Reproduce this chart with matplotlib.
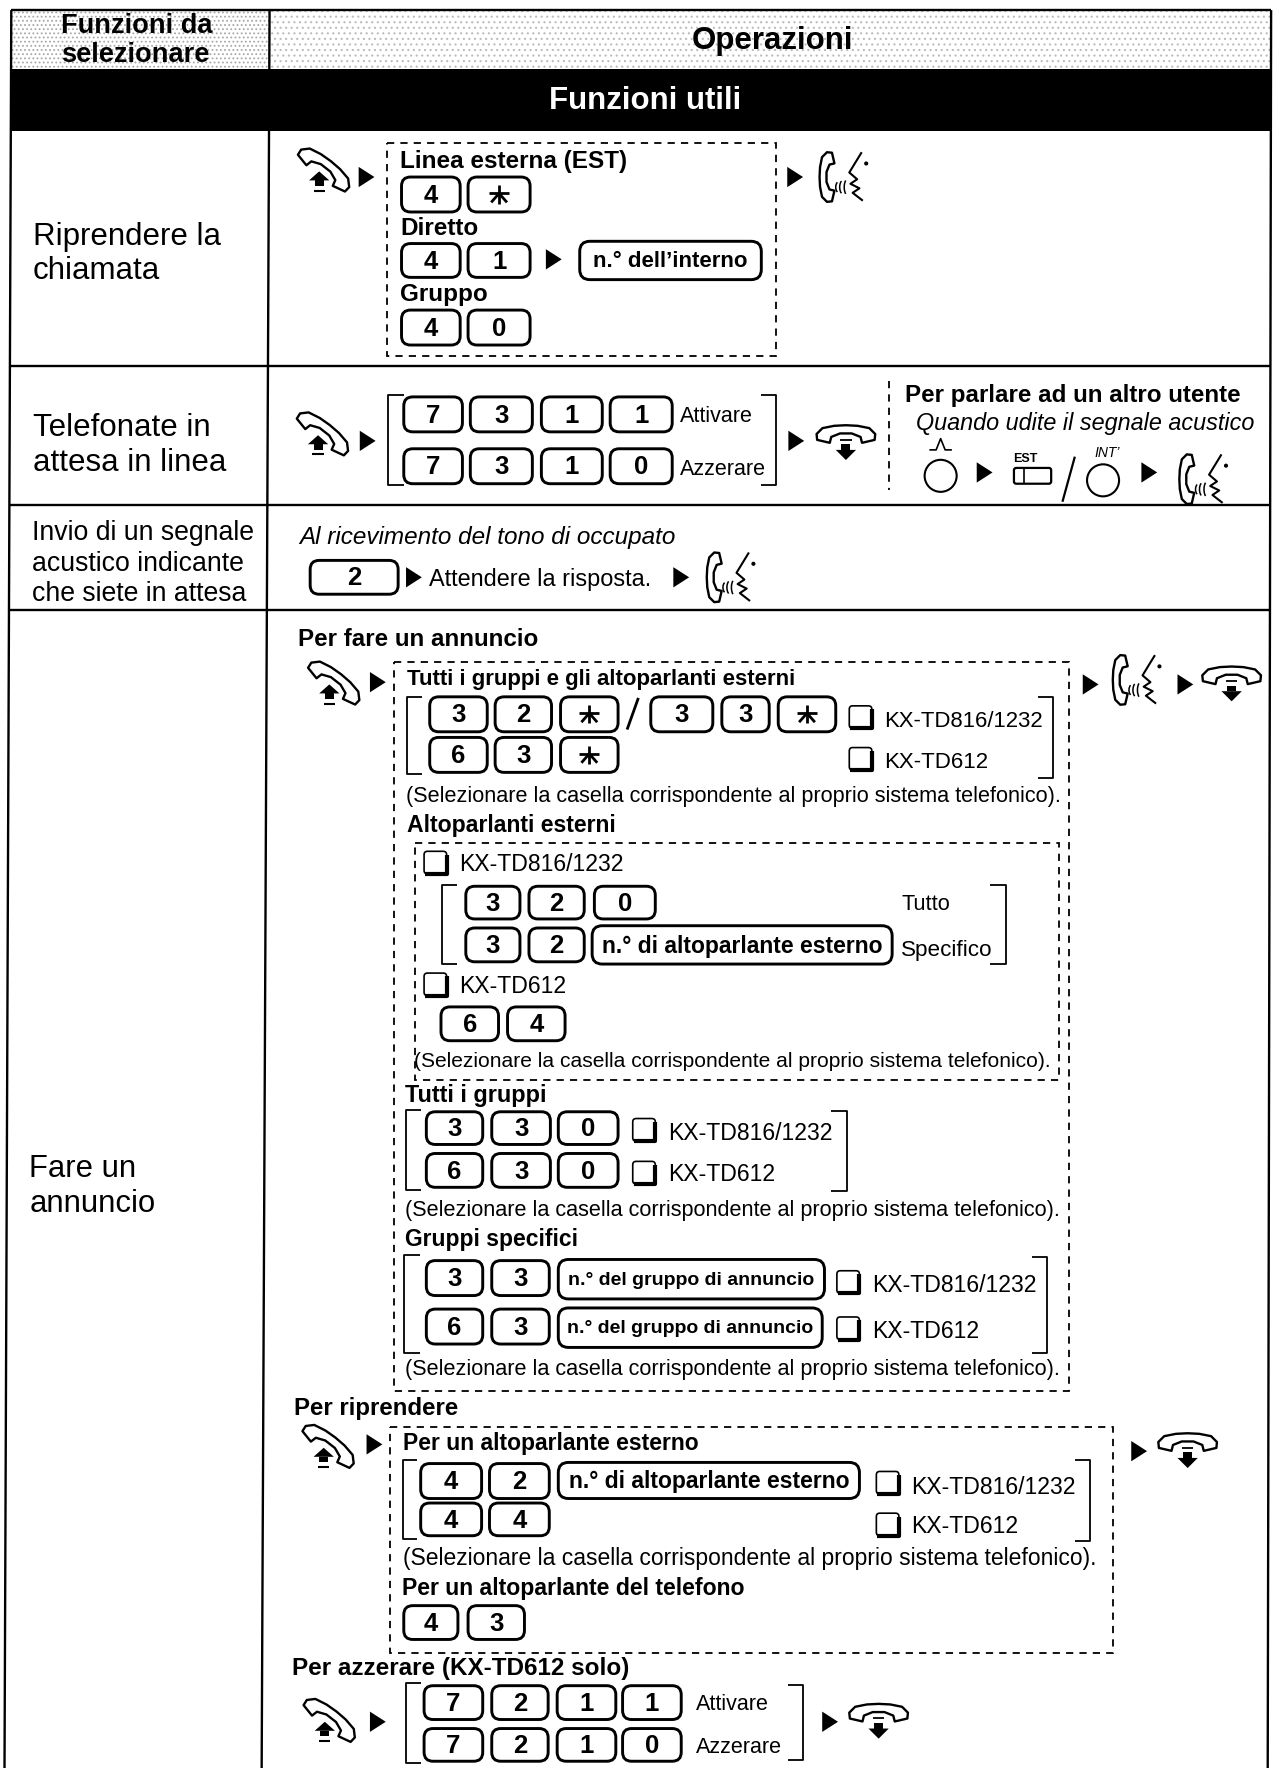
import numpy as np
import matplotlib
matplotlib.use("Agg")
import matplotlib.pyplot as plt
from matplotlib.patches import FancyBboxPatch, Polygon, Rectangle, Circle, Arc

plt.rcParams["font.family"] = ["Liberation Sans", "DejaVu Sans"]
plt.rcParams["hatch.linewidth"] = 0.8

# -----------------------------
# Texts
# -----------------------------
header_left = ["Funzioni da", "selezionare"]
header_right = "Operazioni"
band_title = "Funzioni utili"
row_resume = ["Riprendere la", "chiamata"]
row_wait = ["Telefonate in", "attesa in linea"]
row_signal = ["Invio di un segnale", "acustico indicante", "che siete in attesa"]
row_announce = ["Fare un", "annuncio"]

on_off = ["Attivare", "Azzerare"]
select_note = "(Selezionare la casella corrispondente al proprio sistema telefonico)."
model_big = "KX-TD816/1232"
model_small = "KX-TD612"
box_inner = "n.° dell’interno"
box_speaker = "n.° di altoparlante esterno"
box_group = "n.° del gruppo di annuncio"

# key sequences
keys_est = ["4", "*"]
keys_dir = ["4", "1"]
keys_grp = ["4", "0"]
keys_on = ["7", "3", "1", "1"]
keys_off = ["7", "3", "1", "0"]
keys_all_a = ["3", "2", "*"]
keys_all_b = ["3", "3", "*"]
keys_all_c = ["6", "3", "*"]
keys_spk_a = ["3", "2", "0"]
keys_spk_b = ["3", "2"]
keys_spk_c = ["6", "4"]
keys_grp_a = ["3", "3", "0"]
keys_grp_b = ["6", "3", "0"]
keys_spec_a = ["3", "3"]
keys_spec_b = ["6", "3"]
keys_res_a = ["4", "2"]
keys_res_b = ["4", "4"]
keys_res_c = ["4", "3"]
keys_clr_on = ["7", "2", "1", "1"]
keys_clr_off = ["7", "2", "1", "0"]

# -----------------------------
# Page (coordinates follow the scan)
# -----------------------------
fig = plt.figure(figsize=(12.79, 17.68), dpi=100)
ax = fig.add_axes([0, 0, 1, 1])
ax.set_xlim(0, 1134)
ax.set_ylim(1568, 0)
ax.axis("off")


def txt(x, y, s, size=15.5, weight="normal", style="normal", color="black", ha="left"):
    ax.text(x, y + 4, s, fontsize=size, fontweight=weight, fontstyle=style,
            color=color, ha=ha, va="center", zorder=5)


def bold(x, y, s, size=16):
    txt(x, y, s, size=size, weight="bold")


def note(x, y, size=15.55):
    txt(x, y, select_note, size=size)


def line(xs, ys, lw=1.5, ls="-"):
    ax.plot(xs, ys, color="black", lw=lw, ls=ls, solid_capstyle="butt")


def key(x0, x1, y0, y1, label, size=18.5):
    ax.add_patch(FancyBboxPatch((x0, y0), x1 - x0, y1 - y0,
                                boxstyle="round,pad=0,rounding_size=8",
                                fc="white", ec="black", lw=2.1))
    cx, cy = (x0 + x1) / 2, (y0 + y1) / 2
    if label == "*":
        line([cx - 9, cx + 9], [cy - 1, cy - 1], lw=2)
        line([cx, cx], [cy - 8, cy + 8], lw=2)
        line([cx - 7, cx, cx + 7], [cy + 7, cy - 1, cy + 7], lw=2)
    else:
        ax.text(cx, cy + 1, label, fontsize=size, fontweight="bold", ha="center", va="center")


def keys(labels, spans, y0, y1):
    for label, (x0, x1) in zip(labels, spans):
        key(x0, x1, y0, y1, label)


def textbox(x0, x1, y0, y1, s, size=15.5):
    ax.add_patch(FancyBboxPatch((x0, y0), x1 - x0, y1 - y0,
                                boxstyle="round,pad=0,rounding_size=9",
                                fc="white", ec="black", lw=2.1))
    ax.text((x0 + x1) / 2, (y0 + y1) / 2 + 1, s, fontsize=size, fontweight="bold",
            ha="center", va="center")


def arrow(x, y):
    ax.add_patch(Polygon([(x - 7, y - 9), (x + 7, y), (x - 7, y + 9)], fc="black", ec="none"))


def dashed(x0, x1, y0, y1):
    ax.add_patch(Rectangle((x0, y0), x1 - x0, y1 - y0, fc="none", ec="black",
                           lw=1.3, ls=(0, (4, 3.4))))


def bracket(x0, x1, y0, y1):
    # x0 is the spine, x1 the tip of the serifs
    line([x1, x0, x0, x1], [y0, y0, y1, y1], lw=1.3)


def checkbox(x, y):
    ax.add_patch(FancyBboxPatch((x - 10, y - 10), 20, 20, boxstyle="round,pad=0,rounding_size=3",
                                fc="white", ec="black", lw=1.2))
    line([x - 9, x + 10, x + 10], [y + 10, y + 10, y - 7], lw=3)


def model(x, y, s, dy=2, size=16.6):
    checkbox(x, y)
    txt(x + 21, y + dy, s, size=size)


def receiver(cx, cy, s, deg):
    pts = np.array([(-1.0, 0.08), (-0.8, 0.28), (-0.4, 0.36), (0, 0.38), (0.4, 0.36), (0.8, 0.28),
                    (1.0, 0.08), (0.98, -0.12), (0.55, -0.22), (0.5, -0.02), (0.2, 0.1),
                    (-0.2, 0.1), (-0.5, -0.02), (-0.55, -0.22), (-0.98, -0.12)])
    a = np.radians(deg)
    x = cx + s * (pts[:, 0] * np.cos(a) - pts[:, 1] * np.sin(a))
    y = cy - s * (pts[:, 0] * np.sin(a) + pts[:, 1] * np.cos(a))
    ax.add_patch(Polygon(np.c_[x, y], closed=True, fc="white", ec="black", lw=1.7,
                         joinstyle="round"))


def off_hook(cx, cy):
    receiver(cx, cy - 1, 27, -38)
    ax.add_patch(Polygon([(cx - 13, cy + 8), (cx - 4, cy), (cx + 5, cy + 8)], fc="black", ec="none"))
    ax.add_patch(Rectangle((cx - 8, cy + 8), 8, 5, fc="black", ec="none"))
    line([cx - 9, cx + 1], [cy + 17, cy + 17], lw=1.5)


def on_hook(cx, cy):
    receiver(cx, cy - 4, 26, 0)
    line([cx - 5, cx + 5], [cy - 1, cy - 1], lw=1.3)
    ax.add_patch(Rectangle((cx - 4, cy + 3), 8, 5, fc="black", ec="none"))
    ax.add_patch(Polygon([(cx - 9, cy + 8), (cx, cy + 17), (cx + 9, cy + 8)], fc="black", ec="none"))


def talk(cx, cy):
    receiver(cx - 13, cy, 22, 90)
    for dx, w, h in [(-4, 6, 10), (0, 7, 13), (4, 7, 15)]:
        ax.add_patch(Arc((cx + dx, cy + 9), w, h, theta1=110, theta2=250, color="black", lw=1.1))
    line([cx + 16, cx + 5, cx + 12, cx + 6, cx + 14, cx + 8, cx + 17],
         [cy - 22, cy - 4, cy + 2, cy + 6, cy + 10, cy + 14, cy + 21], lw=1.5)
    ax.add_patch(Circle((cx + 20, cy - 12), 1.2, color="black"))


# -----------------------------
# Table frame
# -----------------------------
ax.add_patch(Rectangle((10, 9), 229, 52, fc="white", ec="#a8a8a8", hatch="....", lw=0))
ax.add_patch(Rectangle((239, 9), 888, 52, fc="white", ec="#bcbcbc", hatch="...", lw=0))
ax.add_patch(Rectangle((10, 61), 1117, 55, fc="black", ec="none"))
line([10, 1127], [9, 9], lw=1.7)
line([10, 4], [9, 1568], lw=1.7)
line([1127, 1124], [9, 1568], lw=1.7)
line([239, 232], [9, 1568], lw=1.7)
line([10, 1127], [325, 325], lw=1.7)
line([9, 1126], [448, 448], lw=1.7)
line([8, 1126], [541, 541], lw=1.7)

for y, s in zip([19, 45], header_left):
    txt(54, y, s, size=19.6, weight="bold")
txt(685, 32, header_right, size=22.5, weight="bold", ha="center")
txt(572, 86, band_title, size=22.5, weight="bold", color="white", ha="center")

for y, s in zip([206, 236], row_resume):
    txt(29, y, s, size=22.5)
for y, s in zip([376, 407], row_wait):
    txt(29, y, s, size=22.5)
for y, s in zip([469, 496, 523], row_signal):
    txt(28, y, s, size=19.2)
for y, s in zip([1033, 1064], row_announce):
    txt(26, y, s, size=22.3)

# -----------------------------
# Riprendere la chiamata
# -----------------------------
off_hook(287, 152)
arrow(325, 157)
dashed(343, 688, 127, 316)
bold(355, 139, "Linea esterna (EST)", 17.5)
span = [(356, 408), (415, 470)]
keys(keys_est, span, 157, 188)
bold(355, 199, "Diretto", 17.5)
keys(keys_dir, span, 216, 246)
arrow(491, 230)
textbox(514, 675, 214, 248, box_inner, 16)
bold(355, 257, "Gruppo", 17.5)
keys(keys_grp, span, 275, 306)
arrow(705, 157)
talk(748, 157)

# -----------------------------
# Telefonate in attesa
# -----------------------------
off_hook(286, 386)
arrow(326, 391)
bracket(344, 358, 350, 430)
span = [(358, 410), (417, 472), (480, 534), (541, 596)]
keys(keys_on, span, 352, 383)
keys(keys_off, span, 398, 429)
txt(603, 365, on_off[0], size=15.5)
txt(603, 412, on_off[1], size=15.5)
bracket(688, 675, 350, 430)
arrow(706, 391)
on_hook(750, 391)
line([788, 788], [338, 435], lw=1.3, ls=(0, (4, 3.4)))
bold(802, 347, "Per parlare ad un altro utente", 17.4)
txt(812, 372, "Quando udite il segnale acustico", size=16.8, style="italic")
ax.add_patch(Circle((834, 422), 14.2, fc="white", ec="black", lw=1.5))
line([824, 830, 834, 838, 844], [399, 399, 389, 399, 399], lw=1.2)
arrow(873, 419)
txt(909, 403, "EST", size=9, weight="bold", ha="center")
ax.add_patch(FancyBboxPatch((899, 415), 33, 14, boxstyle="round,pad=0,rounding_size=2",
                            fc="white", ec="black", lw=1.6))
line([908, 908], [415, 429], lw=1.2)
line([942, 953], [445, 405], lw=1.6)
ax.add_patch(Circle((978, 426), 14.2, fc="white", ec="black", lw=1.5))
txt(982, 398, "INT’", size=10, style="italic", ha="center")
arrow(1019, 419)
talk(1067, 425)

# -----------------------------
# Invio di un segnale
# -----------------------------
txt(265, 473, "Al ricevimento del tono di occupato", size=17.5, style="italic")
key(275, 353, 497, 527, "2")
arrow(367, 512)
txt(380, 510, "Attendere la risposta.", size=16.9)
arrow(604, 512)
talk(648, 512)

# -----------------------------
# Fare un annuncio
# -----------------------------
bold(264, 563, "Per fare un annuncio", 17.4)
off_hook(296, 607)
arrow(335, 605)
dashed(349, 948, 587, 1234)
arrow(967, 607)
talk(1008, 603)
arrow(1051, 607)
on_hook(1092, 605)

bold(361, 599, "Tutti i gruppi e gli altoparlanti esterni", 16)
bracket(361, 374, 618, 686)
span = [(381, 432), (439, 489), (497, 548)]
keys(keys_all_a, span, 618, 649)
line([556, 566], [647, 619], lw=2)
keys(keys_all_b, [(577, 632), (640, 682), (690, 741)], 618, 649)
model(763, 636, model_big, dy=0, size=15.9)
keys(keys_all_c, span, 654, 685)
model(763, 673, model_small, dy=-1, size=16)
bracket(934, 920, 618, 690)
note(360, 702)

bold(361, 728, "Altoparlanti esterni", 16.6)
dashed(368, 939, 748, 958)
model(386, 765, model_big, dy=-2)
bracket(392, 405, 785, 855)
span = [(413, 461), (469, 518), (527, 581)]
keys(keys_spk_a, span, 786, 815)
txt(799, 798, "Tutto", size=15.7)
keys(keys_spk_b, span[:2], 823, 853)
textbox(525, 791, 821, 855, box_speaker, 16.5)
txt(799, 839, "Specifico", size=16.2)
bracket(892, 878, 785, 855)
model(386, 873, model_small, dy=-2)
keys(keys_spk_c, [(391, 442), (450, 501)], 893, 923)
note(367, 937, size=15.1)

bold(359, 968, "Tutti i gruppi", 16.8)
bracket(360, 373, 984, 1055)
span = [(378, 428), (436, 488), (495, 548)]
keys(keys_grp_a, span, 986, 1015)
model(571, 1002, model_big, dy=-1)
keys(keys_grp_b, span, 1023, 1053)
model(571, 1040, model_small, dy=-2)
bracket(751, 737, 985, 1056)
note(359, 1070)

bold(359, 1095, "Gruppi specifici", 16.5)
bracket(358, 372, 1113, 1200)
span = [(378, 428), (436, 487)]
keys(keys_spec_a, span, 1118, 1149)
textbox(495, 731, 1117, 1152, box_group, 14)
keys(keys_spec_b, span, 1161, 1192)
textbox(495, 729, 1160, 1195, box_group, 14)
model(752, 1137, model_big, dy=-1)
model(752, 1178, model_small, dy=-1)
bracket(928, 915, 1115, 1200)
note(359, 1211)

# Per riprendere
bold(261, 1245, "Per riprendere", 17.3)
off_hook(291, 1284)
arrow(332, 1281)
dashed(346, 987, 1266, 1466)
bold(357, 1276, "Per un altoparlante esterno", 16.5)
bracket(357, 370, 1295, 1365)
span = [(373, 427), (434, 487)]
keys(keys_res_a, span, 1298, 1329)
textbox(495, 762, 1297, 1329, box_speaker, 16.5)
keys(keys_res_b, span, 1333, 1362)
model(787, 1315, model_big, dy=0)
model(787, 1352, model_small, dy=-2)
bracket(966, 953, 1295, 1367)
note(357, 1378, size=16.5)
bold(356, 1405, "Per un altoparlante del telefono", 16.6)
keys(keys_res_c, [(358, 406), (415, 465)], 1424, 1454)
arrow(1010, 1287)
on_hook(1053, 1285)

# Per azzerare
bold(259, 1476, "Per azzerare (KX-TD612 solo)", 17.5)
off_hook(292, 1527)
arrow(335, 1527)
bracket(360, 373, 1493, 1564)
span = [(376, 428), (436, 486), (494, 546), (552, 604)]
keys(keys_clr_on, span, 1495, 1525)
keys(keys_clr_off, span, 1533, 1562)
txt(617, 1508, on_off[0], size=15.5)
txt(617, 1546, on_off[1], size=15.5)
bracket(712, 699, 1494, 1561)
arrow(736, 1527)
on_hook(779, 1525)

fig.savefig("out.png", dpi=100)
